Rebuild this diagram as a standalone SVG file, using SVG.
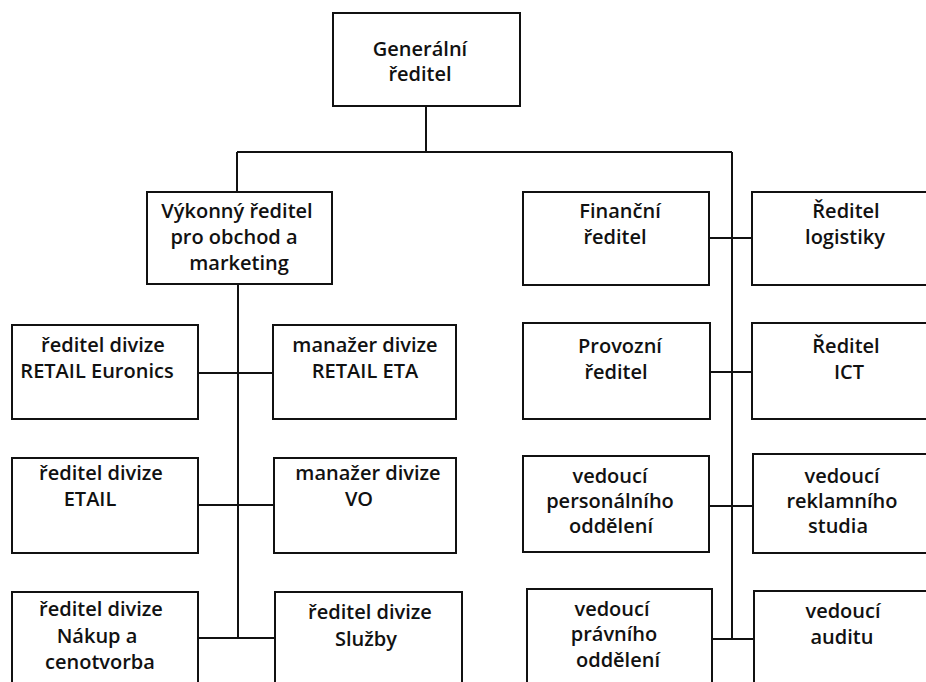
<svg xmlns="http://www.w3.org/2000/svg" width="926" height="682" viewBox="0 0 926 682">
<style>
.box{fill:#fff;stroke:#111;stroke-width:2}
.ln{stroke:#111;stroke-width:2;fill:none}
text{font-family:"Open Sans","Liberation Sans",sans-serif;font-size:20px;font-weight:600;fill:#111;text-anchor:middle}
</style>
<rect width="926" height="682" fill="#fff"/>
<g id="connectors">
<line class="ln" x1="426" y1="106" x2="426" y2="152"/>
<line class="ln" x1="237" y1="152" x2="732" y2="152"/>
<line class="ln" x1="237" y1="152" x2="237" y2="192"/>
<line class="ln" x1="238" y1="284" x2="238" y2="638"/>
<line class="ln" x1="198" y1="373" x2="273" y2="373"/>
<line class="ln" x1="198" y1="505" x2="274" y2="505"/>
<line class="ln" x1="198" y1="638" x2="275" y2="638"/>
<line class="ln" x1="732" y1="152" x2="732" y2="639"/>
<line class="ln" x1="709" y1="238" x2="752" y2="238"/>
<line class="ln" x1="710" y1="372" x2="752" y2="372"/>
<line class="ln" x1="709" y1="506" x2="753" y2="506"/>
<line class="ln" x1="712" y1="639" x2="754" y2="639"/>
</g>
<g id="generalni">
<rect class="box" x="333" y="13" width="187" height="93"/>
<text x="420" y="56">Generální</text>
<text x="420" y="81">ředitel</text>
</g>
<g id="vykonny">
<rect class="box" x="147" y="192" width="185" height="92"/>
<text x="237" y="218">Výkonný ředitel</text>
<text x="234" y="244">pro obchod a</text>
<text x="239" y="270">marketing</text>
</g>
<g id="retail-euronics">
<rect class="box" x="12" y="325" width="186" height="94"/>
<text x="103" y="352">ředitel divize</text>
<text x="97" y="378">RETAIL Euronics</text>
</g>
<g id="retail-eta">
<rect class="box" x="273" y="325" width="183" height="94"/>
<text x="365" y="352">manažer divize</text>
<text x="365" y="378">RETAIL ETA</text>
</g>
<g id="etail">
<rect class="box" x="12" y="458" width="186" height="95"/>
<text x="101" y="480">ředitel divize</text>
<text x="90" y="506">ETAIL</text>
</g>
<g id="vo">
<rect class="box" x="274" y="458" width="182" height="95"/>
<text x="368" y="480">manažer divize</text>
<text x="359" y="506">VO</text>
</g>
<g id="nakup">
<rect class="box" x="12" y="592" width="186" height="110"/>
<text x="101" y="616">ředitel divize</text>
<text x="97" y="643">Nákup a</text>
<text x="100" y="669">cenotvorba</text>
</g>
<g id="sluzby">
<rect class="box" x="275" y="592" width="187" height="110"/>
<text x="370" y="619">ředitel divize</text>
<text x="366" y="646">Služby</text>
</g>
<g id="financni">
<rect class="box" x="523" y="192" width="186" height="93"/>
<text x="620" y="218">Finanční</text>
<text x="615" y="244">ředitel</text>
</g>
<g id="logistika">
<rect class="box" x="752" y="192" width="190" height="93"/>
<text x="846" y="218">Ředitel</text>
<text x="845" y="244">logistiky</text>
</g>
<g id="provozni">
<rect class="box" x="523" y="323" width="187" height="96"/>
<text x="620" y="353">Provozní</text>
<text x="616" y="379">ředitel</text>
</g>
<g id="ict">
<rect class="box" x="752" y="323" width="190" height="96"/>
<text x="846" y="353">Ředitel</text>
<text x="849" y="379">ICT</text>
</g>
<g id="personalni">
<rect class="box" x="523" y="456" width="186" height="96"/>
<text x="610" y="483">vedoucí</text>
<text x="610" y="508">personálního</text>
<text x="611" y="533">oddělení</text>
</g>
<g id="reklamni">
<rect class="box" x="753" y="454" width="190" height="99"/>
<text x="842" y="483">vedoucí</text>
<text x="842" y="508">reklamního</text>
<text x="838" y="533">studia</text>
</g>
<g id="pravni">
<rect class="box" x="527" y="589" width="185" height="113"/>
<text x="612" y="616">vedoucí</text>
<text x="614" y="641">právního</text>
<text x="618" y="667">oddělení</text>
</g>
<g id="audit">
<rect class="box" x="754" y="591" width="190" height="111"/>
<text x="843" y="618">vedoucí</text>
<text x="842" y="644">auditu</text>
</g>
</svg>
